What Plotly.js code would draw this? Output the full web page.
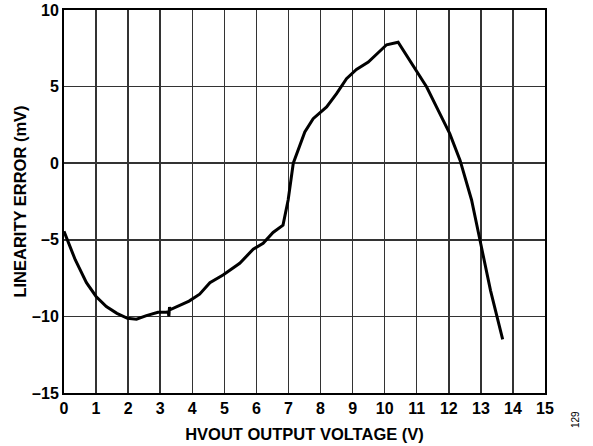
<!DOCTYPE html>
<html><head><meta charset="utf-8">
<script src="https://cdn.plot.ly/plotly-3.0.1.min.js"></script>
<style>body{margin:0;background:#fff}#c{width:593px;height:446px}</style>
</head><body><div id="c"></div>
<script>
const voltage = [0, 0.35, 0.70, 1.0, 1.32, 1.65, 1.98, 2.26, 2.57, 2.93, 3.19, 3.25, 3.27, 3.29, 3.32, 3.61, 3.9, 4.23, 4.55, 4.96, 5.48, 5.9, 6.21, 6.52, 6.83, 6.99, 7.15, 7.51, 7.77, 8.19, 8.5, 8.81, 9.12, 9.49, 9.8, 10.06, 10.42, 10.89, 11.31, 11.67, 12.03, 12.35, 12.71, 12.97, 13.3, 13.68];
const linError = [-4.45, -6.3, -7.8, -8.7, -9.36, -9.8, -10.12, -10.18, -9.95, -9.73, -9.73, -9.7, -10.0, -9.4, -9.55, -9.3, -9.0, -8.55, -7.8, -7.3, -6.53, -5.62, -5.23, -4.52, -4.04, -2.4, 0, 2.04, 2.91, 3.67, 4.54, 5.52, 6.12, 6.6, 7.2, 7.73, 7.9, 6.38, 4.97, 3.45, 1.93, 0.2, -2.4, -5.0, -8.3, -11.5];
const xTicks = [0,1,2,3,4,5,6,7,8,9,10,11,12,13,14,15];
const yTicks = [-15,-10,-5,0,5,10];
const yTickText = ['\u201315','\u201310','\u20135','0','5','10'];

const fam = 'Liberation Sans, Arial, sans-serif';
const tickFont = {family: fam, size: 16, color: '#000', weight: 'bold'};
const titleFont = {family: fam, size: 16.5, color: '#000', weight: 'bold'};
Plotly.newPlot('c', [{
  x: voltage, y: linError, mode: 'lines', type: 'scatter',
  line: {color: '#000', width: 3}, hoverinfo: 'none'
}], {
  width: 593, height: 446,
  margin: {l: 64, r: 48, t: 10, b: 53},
  paper_bgcolor: '#fff', plot_bgcolor: '#fff',
  showlegend: false,
  font: {family: fam, size: 16, color: '#000'},
  xaxis: {
    range: [0, 15], tickvals: xTicks, ticktext: xTicks.map(String),
    showgrid: true, gridcolor: '#333', gridwidth: 1.5,
    showline: true, linecolor: '#000', linewidth: 2, mirror: true,
    zeroline: false, ticks: '', ticklen: 0,
    tickfont: tickFont,
    title: {text: 'HVOUT OUTPUT VOLTAGE (V)', font: titleFont, standoff: 12}
  },
  yaxis: {
    range: [-15, 10], tickvals: yTicks, ticktext: yTickText,
    showgrid: true, gridcolor: '#333', gridwidth: 1.5,
    showline: true, linecolor: '#000', linewidth: 2, mirror: true,
    zeroline: false, ticks: '', ticklen: 0,
    tickfont: tickFont,
    title: {text: 'LINEARITY ERROR (mV)', font: titleFont, standoff: 1}
  },
  annotations: [{
    text: '129', x: 1, y: 0, xref: 'paper', yref: 'paper', showarrow: false,
    xanchor: 'center', yanchor: 'middle',
    textangle: -90, font: {family: fam, size: 10, color: '#000'}
  }]
}, {staticPlot: true});
const gd = document.getElementById('c');
const fl = gd._fullLayout;
const px = (575 - fl.margin.l) / fl._size.w;
const py = 1 - (420 - fl.margin.t) / fl._size.h;
Plotly.relayout(gd, {'annotations[0].x': px, 'annotations[0].y': py});
</script></body></html>
